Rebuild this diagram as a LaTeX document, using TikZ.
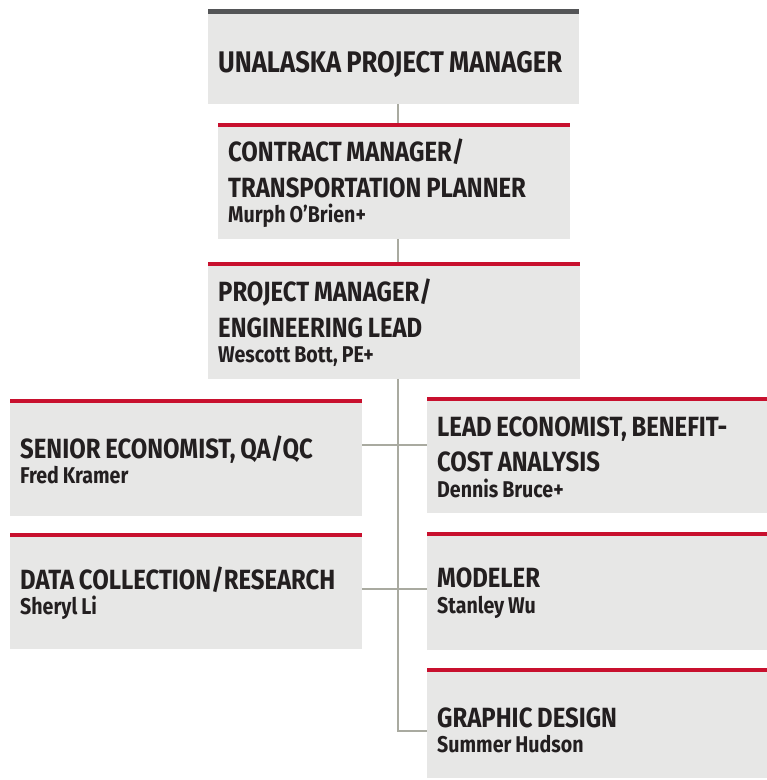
\documentclass[tikz,border=0pt]{standalone}
\usepackage{fontspec}
\setmainfont{Fira Sans}[FakeStretch=0.86]
\definecolor{boxgrey}{HTML}{E7E7E6}
\definecolor{barred}{HTML}{C8102E}
\definecolor{bardark}{HTML}{545557}
\definecolor{linkgrey}{HTML}{A9AAA0}
\definecolor{ink}{HTML}{231F20}
\newcommand\hdfont{\bfseries\fontsize{27.8}{35.5}\selectfont}
\newcommand\ttlfont{\bfseries\fontsize{29.8}{36}\selectfont}
\newcommand\nmfont{\bfseries\fontsize{22.8}{22}\selectfont\spaceskip=0.17em}

\begin{document}
\begin{tikzpicture}[x=1pt,y=-1pt,
  box/.style={fill=boxgrey, anchor=north west, inner xsep=10pt, inner ysep=0pt,
    align=left, text=ink, font=\hdfont,
    execute at begin node={\spaceskip=0.17em}},
  link/.style={draw=linkgrey, line width=2pt},
  redbar/.style={fill=barred}]

\useasboundingbox (0,0) rectangle (767,780);

\node[box, font=\ttlfont, text width=351pt, text height=27pt, text depth=0pt, minimum height=90pt] (top) at (208,14) {UNALASKA PROJECT MANAGER};
\node[box, text width=332pt, minimum height=112pt] (contract) at (218,127)
  {CONTRACT MANAGER/\\TRANSPORTATION PLANNER\\[-10pt]{\nmfont Murph O’Brien+}};
\node[box, text width=352pt, minimum height=113pt] (pm) at (208,266)
  {PROJECT MANAGER/\\ENGINEERING LEAD\\[-10pt]{\nmfont Wescott Bott, PE+}};

\node[box, text width=332pt, minimum height=113pt] (senior) at (10,403)
  {SENIOR ECONOMIST, QA/QC\\[-10pt]{\nmfont Fred Kramer}};
\node[box, text width=332pt, minimum height=112pt] (data) at (10,537)
  {DATA COLLECTION/RESEARCH\\[-10pt]{\nmfont Sheryl Li}};

\node[box, text width=320pt, minimum height=112pt] (lead) at (427,401)
  {LEAD ECONOMIST, BENEFIT-\\COST ANALYSIS\\[-10pt]{\nmfont Dennis Bruce+}};
\node[box, text width=320pt, minimum height=114pt] (modeler) at (427,536)
  {MODELER\\[-10pt]{\nmfont Stanley Wu}};
\node[box, text width=320pt, text height=30pt, minimum height=106pt] (graphic) at (427,672)
  {GRAPHIC DESIGN\\[-10pt]{\nmfont Summer Hudson}};

\coordinate (spine) at (397.5,0);
\coordinate (j1) at (397.5,445);
\coordinate (j2) at (397.5,589);
\coordinate (j3) at (397.5,731);

\draw[link] (top.south -| spine) -- (contract.north -| spine);
\draw[link] (contract.south -| spine) -- (pm.north -| spine);
\draw[link] (pm.south -| spine) -- (j3) -- (graphic.west |- j3);
\draw[link] (senior.east |- j1) -- (lead.west |- j1);
\draw[link] (data.east |- j2) -- (modeler.west |- j2);

\fill[bardark] (top.north west) rectangle ([yshift=5.5pt]top.north east);
\fill[redbar] (contract.north west) rectangle ([yshift=4pt]contract.north east);
\fill[redbar] (pm.north west) rectangle ([yshift=4pt]pm.north east);
\fill[redbar] (senior.north west) rectangle ([yshift=4pt]senior.north east);
\fill[redbar] (data.north west) rectangle ([yshift=4pt]data.north east);
\fill[redbar] (lead.north west) rectangle ([yshift=4pt]lead.north east);
\fill[redbar] (modeler.north west) rectangle ([yshift=4pt]modeler.north east);
\fill[redbar] (graphic.north west) rectangle ([yshift=4pt]graphic.north east);

\end{tikzpicture}
\end{document}
